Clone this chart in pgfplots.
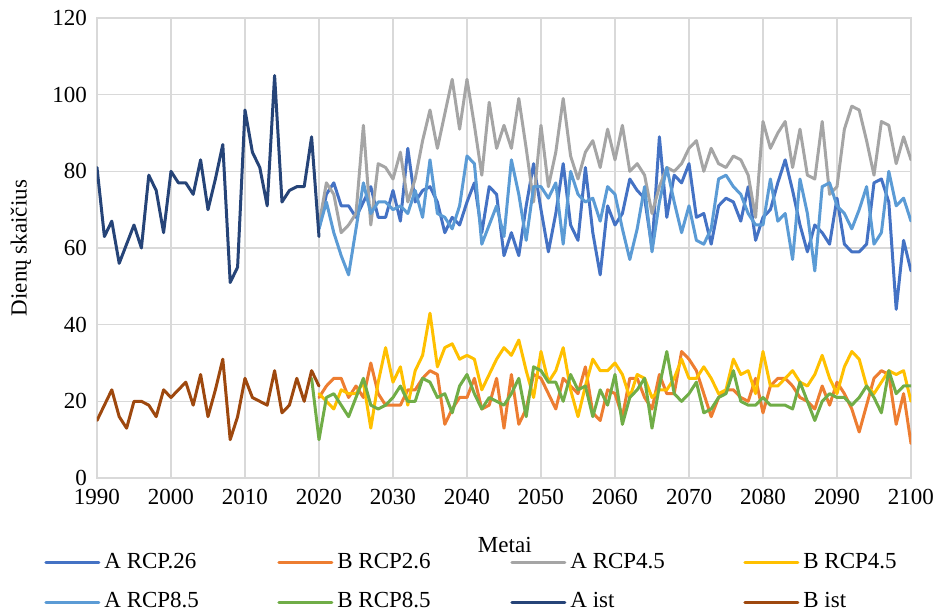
\documentclass[border=0pt]{standalone}
\usepackage{fontspec}
\setmainfont{Liberation Serif}
\usepackage{pgfplots}
\usepackage{pgfplotstable}
\pgfplotsset{compat=1.18}

\definecolor{cAii}{HTML}{4472C4}
\definecolor{cBii}{HTML}{ED7D31}
\definecolor{cAiv}{HTML}{A5A5A5}
\definecolor{cBiv}{HTML}{FFC000}
\definecolor{cAviii}{HTML}{5B9BD5}
\definecolor{cBviii}{HTML}{70AD47}
\definecolor{cAist}{HTML}{264478}
\definecolor{cBist}{HTML}{9E480E}
\definecolor{gridgray}{HTML}{D9D9D9}

% legend text in fixed-width boxes so the four columns are evenly spaced
\newcommand{\legtext}[1]{\makebox[60pt][l]{#1}}

% observed period
\pgfplotstableread{
year Aist Bist
1990 81 15
1991 63 19
1992 67 23
1993 56 16
1994 61 13
1995 66 20
1996 60 20
1997 79 19
1998 75 16
1999 64 23
2000 80 21
2001 77 23
2002 77 25
2003 74 19
2004 83 27
2005 70 16
2006 78 23
2007 87 31
2008 51 10
2009 55 16
2010 96 26
2011 85 21
2012 81 20
2013 71 19
2014 105 28
2015 72 17
2016 75 19
2017 76 26
2018 76 20
2019 89 28
2020 63 24
}\hist

% scenario projections
\pgfplotstableread{
year A26 B26 A45 B45 A85 B85
2019 nan nan nan nan nan 26
2020 65 21 66 22 65 10
2021 74 24 77 20 72 21
2022 77 26 74 18 64 22
2023 71 26 64 23 58 19
2024 71 21 66 22 53 16
2025 68 24 69 22 65 21
2026 72 21 92 25 77 26
2027 76 30 66 13 69 19
2028 68 22 82 25 72 18
2029 68 19 81 34 72 19
2030 75 19 78 25 70 21
2031 67 19 85 29 71 24
2032 86 23 72 19 69 20
2033 72 23 78 28 75 20
2034 75 26 88 32 68 26
2035 76 28 96 43 83 25
2036 72 27 86 29 69 21
2037 64 14 95 34 68 22
2038 68 18 104 35 65 17
2039 66 21 91 31 71 24
2040 72 21 104 32 84 27
2041 77 26 92 31 82 22
2042 64 18 79 23 61 18
2043 76 19 98 27 66 21
2044 74 26 86 31 71 20
2045 58 13 92 34 63 19
2046 64 27 86 32 83 22
2047 58 14 99 36 74 26
2048 71 18 86 28 62 16
2049 82 27 72 21 76 29
2050 70 26 92 33 76 28
2051 59 22 76 25 73 25
2052 69 18 85 28 77 25
2053 82 26 99 34 61 20
2054 66 24 84 23 80 27
2055 62 22 78 16 74 23
2056 81 29 85 24 72 24
2057 64 17 88 31 73 16
2058 53 15 81 28 67 23
2059 71 23 91 28 76 19
2060 66 22 83 30 74 27
2061 69 16 92 27 65 14
2062 78 26 80 21 57 21
2063 75 26 82 27 65 23
2064 73 21 79 26 76 26
2065 60 18 69 21 59 13
2066 89 27 76 23 72 24
2067 68 22 81 23 81 33
2068 79 22 80 26 72 22
2069 77 33 82 31 64 20
2070 82 31 86 26 71 22
2071 68 28 88 26 62 25
2072 69 22 80 29 61 17
2073 61 16 86 26 65 18
2074 71 21 82 22 78 21
2075 73 23 81 23 79 22
2076 72 23 84 31 76 28
2077 67 21 83 27 74 20
2078 76 20 79 28 69 19
2079 62 26 68 22 66 19
2080 68 17 93 33 66 21
2081 70 24 86 24 78 19
2082 77 26 90 24 67 19
2083 83 26 93 26 69 19
2084 75 24 81 28 57 18
2085 66 21 91 25 78 25
2086 59 20 79 24 69 20
2087 66 18 78 27 54 15
2088 64 24 93 32 76 20
2089 61 19 74 26 77 22
2090 73 25 76 22 71 21
2091 61 22 91 29 69 21
2092 59 18 97 33 65 19
2093 59 12 96 31 70 21
2094 61 19 88 24 76 24
2095 77 26 79 22 61 21
2096 78 28 93 25 64 17
2097 72 27 92 28 80 28
2098 44 14 82 27 71 22
2099 62 22 89 28 73 24
2100 54 9 83 20 67 24
}\proj

\begin{document}
\begin{tikzpicture}
\useasboundingbox (-48.5pt,-66.5pt) rectangle (421pt,239pt);
\begin{axis}[
  at={(0,0)}, anchor=south west,
  scale only axis, width=407pt, height=230pt,
  xmin=1990, xmax=2100, ymin=0, ymax=120,
  xtick={1990,2000,...,2100}, ytick={0,20,...,120},
  /pgf/number format/1000 sep={},
  /pgf/number format/assume math mode=true,
  grid=major,
  major grid style={draw=gridgray, line width=0.75pt},
  axis line style={draw=gridgray, line width=0.75pt},
  major tick length=0pt,
  tick label style={font=\fontsize{11.5}{13}\selectfont, text=black},
  xticklabel style={yshift=-2pt},
  yticklabel style={xshift=-1.5pt},
  label style={font=\fontsize{11.5}{13}\selectfont},
  xlabel={Metai}, ylabel={Dienų skaičius},
  xlabel style={at={(axis description cs:0.501,-0.1457)}, anchor=center},
  ylabel style={at={(axis description cs:-0.0934,0.5)}, anchor=center},
  legend columns=4,
  legend cell align=left,
  legend image code/.code={\draw[#1] (0pt,0pt) -- (26.5pt,0pt);},
  legend style={at={(axis description cs:-0.0651,-0.163)}, anchor=north west,
    draw=none, fill=none, inner sep=0pt,
    font=\fontsize{11.5}{13}\selectfont,
    nodes={inner sep=0pt, text depth=0.2em},
    row sep=10pt,
    /tikz/every odd column/.append style={column sep=2pt},
    /tikz/every even column/.append style={column sep=26.5pt}},
  every axis plot/.append style={line width=1.5pt, line join=round, line cap=round, no markers},
]
\addplot[cAii] table[x=year, y=A26] {\proj};
\addlegendentry{\legtext{A RCP.26}}
\addplot[cBii] table[x=year, y=B26] {\proj};
\addlegendentry{\legtext{B RCP2.6}}
\addplot[cAiv] table[x=year, y=A45] {\proj};
\addlegendentry{\legtext{A RCP4.5}}
\addplot[cBiv] table[x=year, y=B45] {\proj};
\addlegendentry{\legtext{B RCP4.5}}
\addplot[cAviii] table[x=year, y=A85] {\proj};
\addlegendentry{\legtext{A RCP8.5}}
\addplot[cBviii] table[x=year, y=B85] {\proj};
\addlegendentry{\legtext{B RCP8.5}}
\addplot[cAist] table[x=year, y=Aist] {\hist};
\addlegendentry{\legtext{A ist}}
\addplot[cBist] table[x=year, y=Bist] {\hist};
\addlegendentry{\legtext{B ist}}
\end{axis}
\end{tikzpicture}
\end{document}
